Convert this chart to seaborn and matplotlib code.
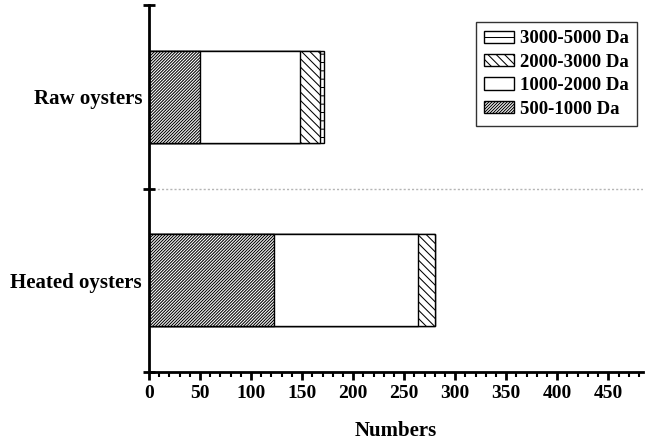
import numpy as np
import pandas as pd
import matplotlib
matplotlib.use('Agg')
import matplotlib.pyplot as plt
import seaborn as sns
from matplotlib.ticker import MultipleLocator, FixedLocator
from matplotlib.patches import Patch

groups = ['Raw oysters', 'Heated oysters']
size_classes = ['500-1000 Da', '1000-2000 Da', '2000-3000 Da', '3000-5000 Da']
v500_1000 = [50, 122]
v1000_2000 = [98, 142]
v2000_3000 = [20, 16]
v3000_5000 = [3, 0]
hatches = ['/' * 11, '', '\\' * 4, '--']

sns.set_theme(style='white')
plt.rcParams['font.family'] = ['Liberation Serif', 'DejaVu Serif']
plt.rcParams['font.weight'] = 'bold'
plt.rcParams['hatch.linewidth'] = 0.75
for k in ['text.color', 'axes.labelcolor', 'xtick.color', 'ytick.color']:
    plt.rcParams[k] = 'black'

fig = plt.figure(figsize=(6.46, 4.41), dpi=100)
ax = fig.add_axes([149/646, 1-372/441, (643-149)/646, (372-5)/441])

series = [v500_1000, v1000_2000, v2000_3000, v3000_5000]
cum = np.cumsum(np.array(series), axis=0)
for i in reversed(range(4)):
    df = pd.DataFrame({'group': groups, 'value': cum[i]})
    sns.barplot(data=df, x='value', y='group', orient='h', order=groups,
                color='white', saturation=1, edgecolor='black', linewidth=1,
                width=0.5, hatch=hatches[i], ax=ax)

ax.set_xlim(0, 484)
ax.set_ylim(1.5, -0.5)
ax.axhline(0.5, color='#b5b5b5', linestyle=(0, (1.5, 1.5)), lw=1, zorder=0)

for s in ['top', 'right']:
    ax.spines[s].set_visible(False)
for s in ['left', 'bottom']:
    ax.spines[s].set_linewidth(2)
    ax.spines[s].set_color('black')

ax.xaxis.set_major_locator(MultipleLocator(50))
ax.xaxis.set_minor_locator(MultipleLocator(10))
ax.tick_params(axis='x', which='major', direction='out', length=6, width=2,
               labelsize=14, bottom=True, pad=3)
ax.tick_params(axis='x', which='minor', direction='out', length=3.5, width=1.5, bottom=True)
ax.yaxis.set_minor_locator(FixedLocator([-0.5, 0.5, 1.5]))
ax.tick_params(axis='y', which='major', length=0, labelsize=15, pad=5)
ax.tick_params(axis='y', which='minor', direction='inout', length=9, width=2, left=True)
for lab in ax.get_xticklabels() + ax.get_yticklabels():
    lab.set_fontweight('bold')

ax.set_xlabel('Numbers', fontsize=15, fontweight='bold', labelpad=14)
ax.set_ylabel('')

handles = [Patch(facecolor='white', edgecolor='black', hatch=hatches[i], linewidth=1)
           for i in reversed(range(4))]
labels = [size_classes[i] for i in reversed(range(4))]
leg = ax.legend(handles, labels, loc='upper right', bbox_to_anchor=(637/646, 1-22/441),
                bbox_transform=fig.transFigure, fancybox=False, frameon=True,
                edgecolor='black', prop={'size': 13.5, 'weight': 'bold'},
                handlelength=1.6, handleheight=0.65, handletextpad=0.3,
                labelspacing=0.34, borderpad=0.45, borderaxespad=0)
leg.get_frame().set_linewidth(1)

fig.savefig('out.png', dpi=100)
